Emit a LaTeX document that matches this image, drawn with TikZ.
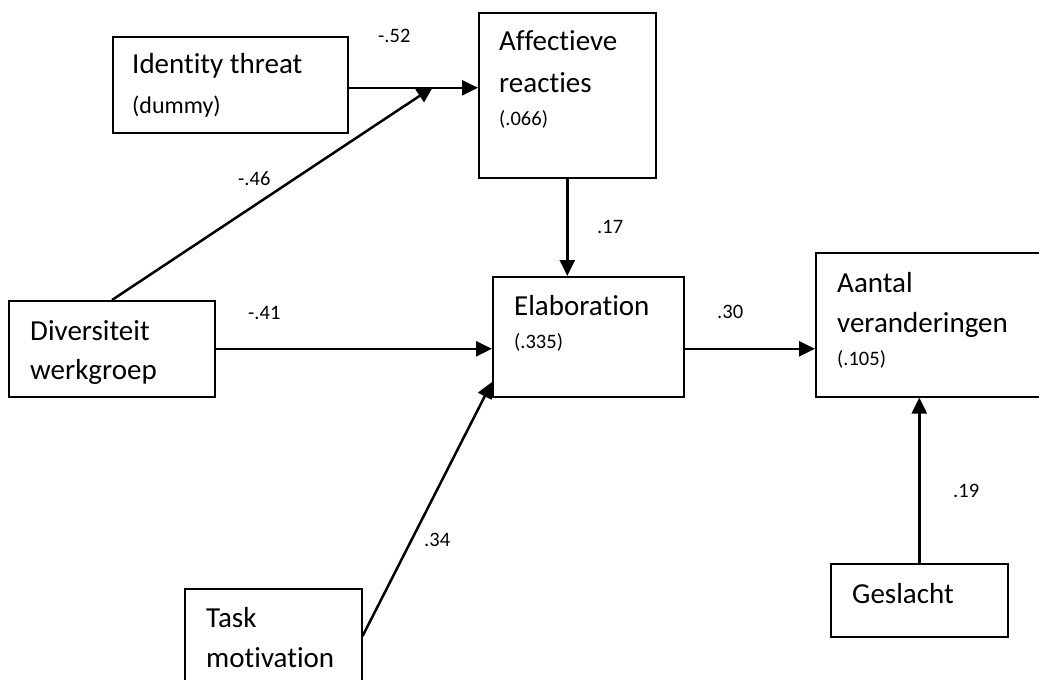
\documentclass[tikz,border=0pt]{standalone}
\usepackage{fontspec}
\setmainfont{Carlito}[Ligatures=NoCommon]
\usetikzlibrary{arrows.meta,calc}
\begin{document}
\begin{tikzpicture}[x=1pt,y=-1pt,
  box/.style={draw, line width=1.6pt, inner sep=0pt, anchor=north west},
  conn/.style={line width=2.5pt, -{Triangle[length=16pt,width=15pt]}},
  big/.style={font=\fontsize{29}{35}\selectfont, inner sep=0pt, anchor=base west},
  small/.style={font=\fontsize{20.5}{25}\selectfont, inner sep=0pt, anchor=base west},
  mid/.style={font=\fontsize{24}{29}\selectfont, inner sep=0pt, anchor=base west},
  coef/.style={small}]
\clip (0,0) rectangle (1039,680);

% variable boxes
\node[box, minimum width=235pt, minimum height=96pt]  (ident)  at (112,36)  {};
\node[box, minimum width=177pt, minimum height=165pt] (affect) at (478,12)  {};
\node[box, minimum width=206pt, minimum height=96pt]  (diver)  at (8,300)   {};
\node[box, minimum width=191pt, minimum height=120pt] (elab)   at (492,276) {};
\node[box, minimum width=232pt, minimum height=144pt] (aantal) at (815,252) {};
\node[box, minimum width=177pt, minimum height=110pt] (task)   at (184,588) {};
\node[box, minimum width=177pt, minimum height=73pt]  (gesl)   at (830,563) {};

% box texts
\node[big]   (t1a) at (132,73)  {Identity threat};
\node[mid]   (t1b) at (132,113) {(dummy)};
\node[big]   (t2a) at (499,50)  {Affectieve};
\node[big]   (t2b) at (499,92)  {reacties};
\node[small] (t2c) at (499,125) {(.066)};
\node[big]   (t3a) at (30,340)  {Diversiteit};
\node[big]   (t3b) at (30,379)  {werkgroep};
\node[big]   (t4a) at (514,315) {Elaboration};
\node[small] (t4b) at (514,348) {(.335)};
\node[big]   (t5a) at (837,292) {Aantal};
\node[big]   (t5b) at (837,332) {veranderingen};
\node[small] (t5c) at (837,365) {(.105)};
\node[big]   (t6a) at (206,627) {Task};
\node[big]   (t6b) at (206,667) {motivation};
\node[big]   (t7a) at (852,603) {Geslacht};

% connector end points
\coordinate (identOut) at ($(ident.east)+(0,3)$);
\coordinate (affectIn) at (identOut -| affect.west);
\coordinate (join)     at (433,87);
\coordinate (diverTop) at ($(diver.north west)+(104,0)$);
\coordinate (taskOut)  at ($(task.north east)+(0,48)$);
\coordinate (elabLow)  at ($(elab.north west)+(0,106)$);
\coordinate (elabOut)  at ($(elab.east)+(0,12)$);
\coordinate (aantalIn) at (elabOut -| aantal.west);

% paths
\draw[conn] (identOut) -- (affectIn);
\draw[conn] (diverTop) -- (join);
\draw[conn] (diver.east) -- (diver.east -| elab.west);
\draw[conn] (taskOut) -- (elabLow);
\draw[conn] (affect.south) -- (affect.south |- elab.north);
\draw[conn] (elabOut) -- (aantalIn);
\draw[conn] (gesl.north) -- (gesl.north |- aantal.south);

% path coefficients
\node[coef] (c1) at (378,42)  {-.52};
\node[coef] (c2) at (238,185) {-.46};
\node[coef] (c3) at (248,319) {-.41};
\node[coef] (c4) at (597,233) {.17};
\node[coef] (c5) at (717,318) {.30};
\node[coef] (c6) at (424,546) {.34};
\node[coef] (c7) at (953,497) {.19};
\end{tikzpicture}
\end{document}
